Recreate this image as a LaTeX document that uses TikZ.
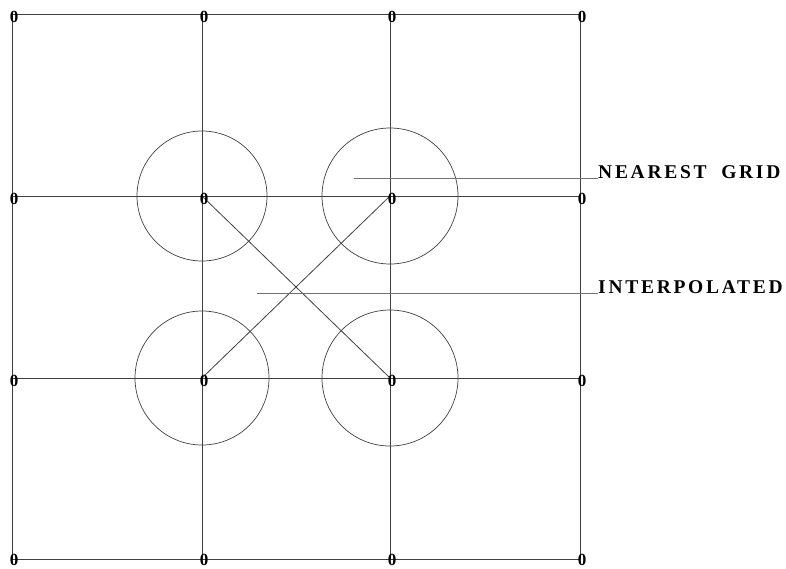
\documentclass[tikz,border=0pt]{standalone}
\usepackage{fontspec}
\setmainfont{Liberation Serif}
\usepackage{tikz}

\tikzset{
	gridline/.style={draw=black!75, line width=0.8pt},
	zero/.style={inner sep=0pt, font=\bfseries\fontsize{17}{17}\selectfont, xshift=2pt, yshift=-3pt},
	ring/.style={draw=black!75, line width=0.7pt},
	leader/.style={draw=black!55, line width=0.9pt},
	caption/.style={inner sep=0pt, anchor=base west, font=\bfseries\fontsize{19.5}{20}\selectfont\addfontfeature{LetterSpace=14}}
}

\begin{document}
\begin{tikzpicture}[x=1pt, y=-1pt]
	\useasboundingbox (0,0) rectangle (786,568);

	% grid points
	\coordinate (a1) at (12,14);   \coordinate (b1) at (202,14);  \coordinate (c1) at (390,14);  \coordinate (d1) at (580,14);
	\coordinate (a2) at (12,196);  \coordinate (b2) at (202,196); \coordinate (c2) at (390,196); \coordinate (d2) at (580,196);
	\coordinate (a3) at (12,378);  \coordinate (b3) at (202,378); \coordinate (c3) at (390,378); \coordinate (d3) at (580,378);
	\coordinate (a4) at (12,559);  \coordinate (b4) at (202,559); \coordinate (c4) at (390,559); \coordinate (d4) at (580,559);

	% grid lines
	\draw[gridline] (a1) -- (d1);
	\draw[gridline] (a2) -- (d2);
	\draw[gridline] (a3) -- (d3);
	\draw[gridline] (a4) -- (d4);
	\draw[gridline] (a1) -- (a4);
	\draw[gridline] (b1) -- (b4);
	\draw[gridline] (c1) -- (c4);
	\draw[gridline] (d1) -- (d4);

	% circles round the nearest points
	\draw[ring] (b2) circle (65);
	\draw[ring] (c2) circle (68);
	\draw[ring] (b3) circle (67);
	\draw[ring] (c3) circle (68);

	% diagonals
	\draw[gridline] (b2) -- (c3);
	\draw[gridline] (b3) -- (c2);

	% values
	\node[zero] (za1) at (a1) {0}; \node[zero] (zb1) at (b1) {0}; \node[zero] (zc1) at (c1) {0}; \node[zero] (zd1) at (d1) {0};
	\node[zero] (za2) at (a2) {0}; \node[zero] (zb2) at (b2) {0}; \node[zero] (zc2) at (c2) {0}; \node[zero] (zd2) at (d2) {0};
	\node[zero] (za3) at (a3) {0}; \node[zero] (zb3) at (b3) {0}; \node[zero] (zc3) at (c3) {0}; \node[zero] (zd3) at (d3) {0};
	\node[zero, yshift=2pt] (za4) at (a4) {0}; \node[zero, yshift=2pt] (zb4) at (b4) {0};
	\node[zero, yshift=2pt] (zc4) at (c4) {0}; \node[zero, yshift=2pt] (zd4) at (d4) {0};

	% labels
	\node[caption] (nearest) at (598,178) {NEAREST\hspace{7pt} GRID};
	\node[caption] (interp) at (598,293) {INTERPOLATED};
	\coordinate (nstart) at (354,178);
	\coordinate (istart) at (257,293);
	\draw[leader] (nstart) -- (nearest.base west);
	\draw[leader] (istart) -- (interp.base west);
\end{tikzpicture}
\end{document}
